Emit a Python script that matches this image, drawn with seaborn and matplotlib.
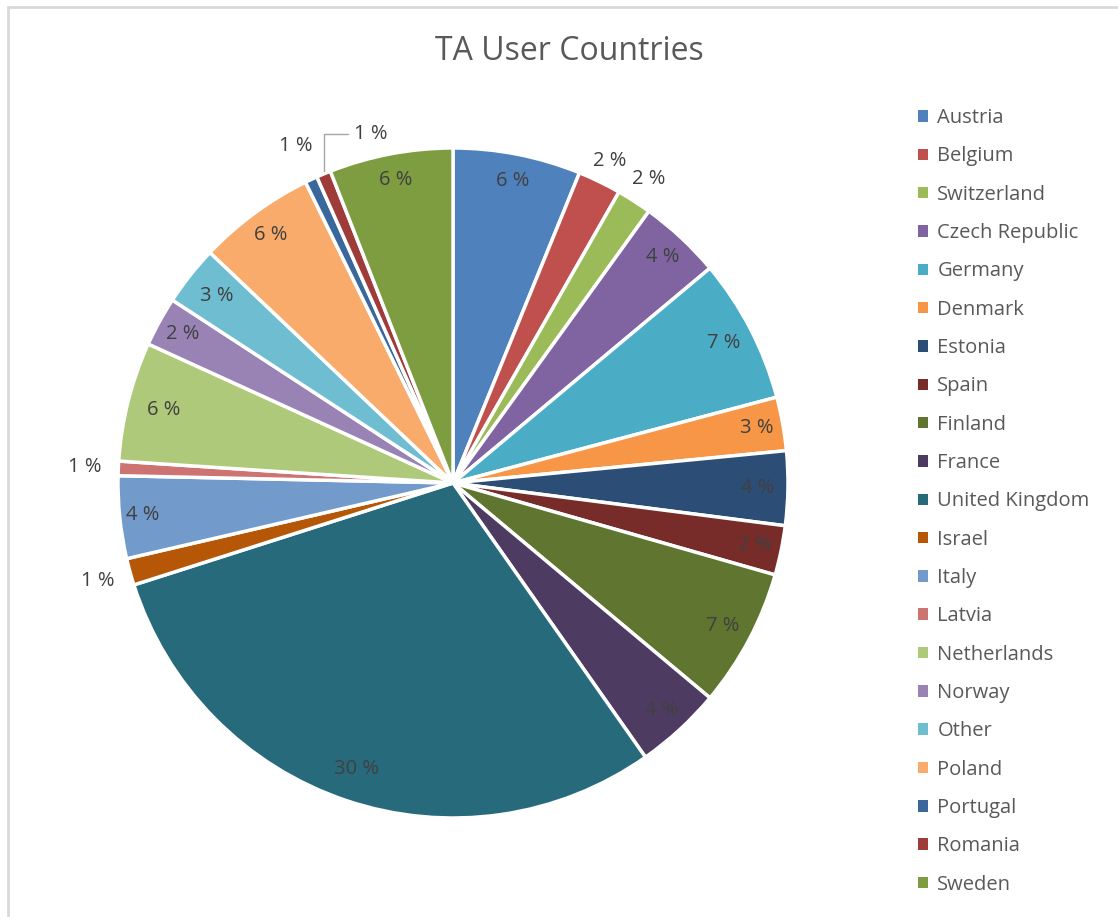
import numpy as np
import matplotlib
matplotlib.use("Agg")
import matplotlib.pyplot as plt
import seaborn as sns
from matplotlib.patches import Rectangle

# Donnees (parts en %)
countries = ["Austria", "Belgium", "Switzerland", "Czech Republic", "Germany",
             "Denmark", "Estonia", "Spain", "Finland", "France",
             "United Kingdom", "Israel", "Italy", "Latvia", "Netherlands",
             "Norway", "Other", "Poland", "Portugal", "Romania", "Sweden"]
shares = [6.2, 2.1, 1.7, 4.0, 7.0,
          2.6, 3.6, 2.4, 6.7, 4.2,
          30.0, 1.3, 4.0, 0.7, 5.8,
          2.4, 2.9, 5.7, 0.6, 0.7, 6.0]
colors = ["#4F81BD", "#C0504D", "#9BBB59", "#8064A2", "#4BACC6",
          "#F79646", "#2C4D75", "#772C2A", "#5F7530", "#4D3B62",
          "#276A7C", "#B65708", "#729ACA", "#CD7371", "#AFC97A",
          "#9983B5", "#6FBDD1", "#F9AB6B", "#3A679C", "#9F3B38", "#7E9C40"]
# distance du label au centre (1 = bord du camembert)
label_r = [0.92, 1.07, 1.08, 0.92, 0.91,
           0.92, 0.91, 0.92, 0.91, 0.92,
           0.90, 1.10, 0.93, 1.10, 0.89,
           0.92, 0.90, 0.92, 1.11, None, 0.92]

sns.set_theme(style="white")
plt.rcParams["font.family"] = ["Open Sans", "DejaVu Sans"]
text_col = "#595959"

fig = plt.figure(figsize=(11.18, 9.17), dpi=100)
W, H = 1118, 917
cx, cy, R, half = 453, 483, 335, 400
ax = fig.add_axes([(cx - half) / W, (H - cy - half) / H, 2 * half / W, 2 * half / H])

wedges, _ = ax.pie(shares, colors=sns.color_palette(colors), startangle=90,
                   counterclock=False, radius=1,
                   wedgeprops=dict(edgecolor="white", linewidth=2.5))
lim = half / R
ax.set_xlim(-lim, lim)
ax.set_ylim(-lim, lim)
ax.set_aspect("equal")
ax.axis("off")

total = sum(shares)
for w, val, r in zip(wedges, shares, label_r):
    mid = np.deg2rad((w.theta1 + w.theta2) / 2)
    txt = f"{round(100 * val / total):.0f} %"
    if r is None:
        # Romania : label avec trait de rappel
        x0, y0 = np.cos(mid) * 1.0, np.sin(mid) * 1.0
        ax.annotate(txt, xy=(x0, y0 + 0.01), xytext=(x0 + 0.09, y0 + 0.12),
                    ha="left", va="center", fontsize=14.5, color="#404040",
                    arrowprops=dict(arrowstyle="-", color="#a6a6a6", lw=1,
                                    connectionstyle="angle,angleA=0,angleB=90,rad=0",
                                    shrinkA=2, shrinkB=0))
        continue
    ax.text(np.cos(mid) * r, np.sin(mid) * r, txt, ha="center", va="center",
            fontsize=14.5, color="#404040")

fig.text(569 / W, 1 - 52 / H, "TA User Countries", ha="center", va="center",
         fontsize=23, color=text_col)

leg = fig.legend(wedges, countries, loc="upper left",
                 bbox_to_anchor=(900 / W, 1 - 90 / H), frameon=False,
                 fontsize=14.5, labelcolor=text_col, handlelength=0.5,
                 handleheight=0.5, handletextpad=0.45, labelspacing=0.91)
for h in leg.legend_handles:
    h.set_edgecolor("none")

# cadre gris clair du graphique
fig.patches.append(Rectangle((8 / W, -0.01), 1.2, 1 - 7 / H + 0.01,
                             transform=fig.transFigure, fill=False,
                             edgecolor="#d9d9d9", linewidth=2))

fig.savefig("out.png", dpi=100)
